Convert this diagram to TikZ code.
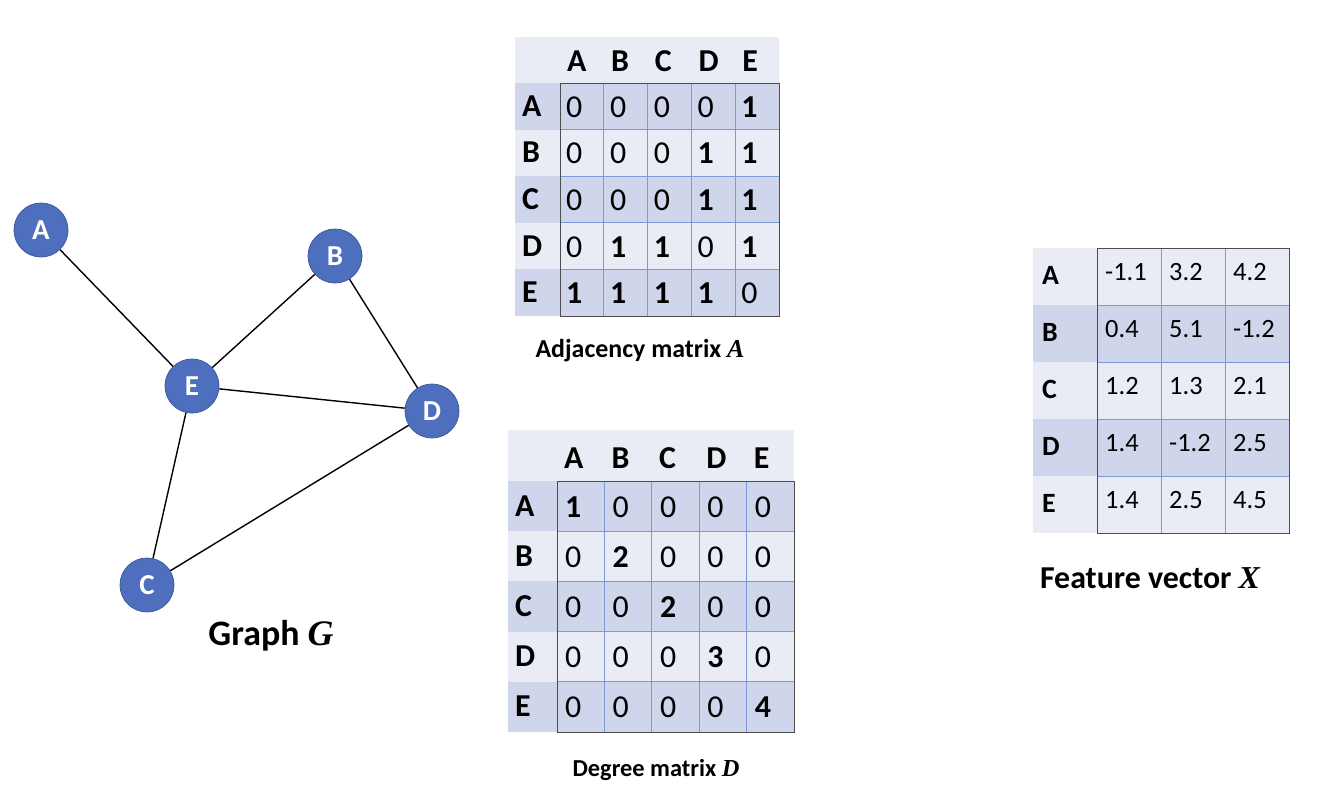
\documentclass[tikz,border=0pt]{standalone}
\usepackage{fontspec}
\setmainfont{Carlito}
\newfontfamily\symfont{Liberation Serif}
\definecolor{nodeblue}{HTML}{4E6FBE}
\definecolor{nodeedge}{HTML}{3E5A9E}
\definecolor{rowdark}{HTML}{CFD5EA}
\definecolor{rowlight}{HTML}{E9EBF5}
\definecolor{gridblue}{HTML}{7D98D6}
\definecolor{frame}{HTML}{4D4D4D}
\newcommand{\mvar}[1]{{\symfont\bfseries\itshape #1}}

\begin{document}
\begin{tikzpicture}[x=1bp,y=-1bp,
  vertex/.style={circle,fill=nodeblue,draw=nodeedge,line width=0.8bp,minimum size=54bp,inner sep=0pt,text=white,font=\fontsize{29}{32}\selectfont\bfseries},
  edge/.style={line width=1.4bp,black},
  bigcell/.style={anchor=west,inner sep=0pt,text height=20bp,text depth=0pt,font=\fontsize{32}{38}\selectfont},
  bighead/.style={bigcell,font=\fontsize{32}{38}\selectfont\bfseries},
  smallcell/.style={anchor=west,inner sep=0pt,text height=17bp,text depth=0pt,font=\fontsize{26.5}{31}\selectfont},
  smallhead/.style={smallcell,font=\fontsize{28}{32}\selectfont\bfseries},
  gridline/.style={gridblue,line width=0.8bp},
  border/.style={frame,line width=1bp},
  caption/.style={inner sep=0pt,font=\bfseries},
]
\useasboundingbox[fill=white] (0,0) rectangle (1336,790);

% ---------------- graph G ----------------
\node[vertex] (A) at (41,230) {A};
\node[vertex] (B) at (335,256) {B};
\node[vertex] (E) at (192,386) {E};
\node[vertex] (D) at (432,411) {D};
\node[vertex] (C) at (147,585) {C};
\draw[edge] (A) -- (E);
\draw[edge] (B) -- (E);
\draw[edge] (B) -- (D);
\draw[edge] (E) -- (D);
\draw[edge] (E) -- (C);
\draw[edge] (C) -- (D);
\node[caption,font=\fontsize{36}{40}\selectfont\bfseries] (capG) at (271,636) {Graph \mvar{G}};

% ---------------- adjacency matrix A ----------------
\def\ax{560}\def\aw{43.8}\def\ay{83}\def\ah{46.6}
\fill[rowlight] (515,37) rectangle (779,\ay);
\foreach \r in {1,...,5}{
  \pgfmathsetmacro\yt{\ay+(\r-1)*\ah}
  \pgfmathsetmacro\yb{\ay+\r*\ah}
  \pgfmathparse{mod(\r,2)==1 ? "rowdark" : "rowlight"}
  \fill[\pgfmathresult] (515,\yt) rectangle (779,\yb);
}
\foreach \c in {1,...,4}{
  \draw[gridline] ({\ax+\c*\aw},\ay) -- ({\ax+\c*\aw},{\ay+5*\ah});
}
\foreach \r in {1,...,4}{
  \draw[gridline] (\ax,{\ay+\r*\ah}) -- (779,{\ay+\r*\ah});
}
\draw[border] (\ax,\ay) rectangle (779,{\ay+5*\ah});
\foreach \h [count=\c] in {A,B,C,D,E}{
  \node[bighead] (adjcol\c) at ({\ax+(\c-1)*\aw+7},61) {\h};
  \node[bighead] (adjrow\c) at (522,{\ay+(\c-0.5)*\ah}) {\h};
}
\foreach \rowvals [count=\r] in {{0,0,0,0,1},{0,0,0,1,1},{0,0,0,1,1},{0,1,1,0,1},{1,1,1,1,0}}{
  \foreach \v [count=\c] in \rowvals{
    \node[bigcell] (adj\r\c) at ({\ax+(\c-1)*\aw+6},{\ay+(\r-0.5)*\ah+1}) {\ifnum\v>0 \bfseries\fi\v};
  }
}
\node[caption,font=\fontsize{26}{30}\selectfont\bfseries] (capA) at (640,351) {Adjacency matrix \mvar{A}};

% ---------------- degree matrix D ----------------
\def\dx{557}\def\dw{47.4}\def\dy{481}\def\dh{50.2}
\fill[rowlight] (508,430) rectangle (794,\dy);
\foreach \r in {1,...,5}{
  \pgfmathsetmacro\yt{\dy+(\r-1)*\dh}
  \pgfmathsetmacro\yb{\dy+\r*\dh}
  \pgfmathparse{mod(\r,2)==1 ? "rowdark" : "rowlight"}
  \fill[\pgfmathresult] (508,\yt) rectangle (794,\yb);
}
\foreach \c in {1,...,4}{
  \draw[gridline] ({\dx+\c*\dw},\dy) -- ({\dx+\c*\dw},{\dy+5*\dh});
}
\foreach \r in {1,...,4}{
  \draw[gridline] (\dx,{\dy+\r*\dh}) -- (794,{\dy+\r*\dh});
}
\draw[border] (\dx,\dy) rectangle (794,{\dy+5*\dh});
\foreach \h [count=\c] in {A,B,C,D,E}{
  \node[bighead] (degcol\c) at ({\dx+(\c-1)*\dw+7},458) {\h};
  \node[bighead] (degrow\c) at (515,{\dy+(\c-0.5)*\dh}) {\h};
}
\foreach \rowvals [count=\r] in {{1,0,0,0,0},{0,2,0,0,0},{0,0,2,0,0},{0,0,0,3,0},{0,0,0,0,4}}{
  \foreach \v [count=\c] in \rowvals{
    \node[bigcell] (deg\r\c) at ({\dx+(\c-1)*\dw+8},{\dy+(\r-0.5)*\dh+1}) {\ifnum\v>0 \bfseries\fi\v};
  }
}
\node[caption,font=\fontsize{24.5}{28}\selectfont\bfseries] (capD) at (656,770) {Degree matrix \mvar{D}};

% ---------------- feature matrix X ----------------
\def\fx{1097}\def\fw{64}\def\fy{248}\def\fh{57}
\foreach \r in {1,...,5}{
  \pgfmathsetmacro\yt{\fy+(\r-1)*\fh}
  \pgfmathsetmacro\yb{\fy+\r*\fh}
  \pgfmathparse{mod(\r,2)==0 ? "rowdark" : "rowlight"}
  \fill[\pgfmathresult] (1033,\yt) rectangle ({\fx+3*\fw},\yb);
}
\foreach \c in {1,2}{
  \draw[gridline] ({\fx+\c*\fw},\fy) -- ({\fx+\c*\fw},{\fy+5*\fh});
}
\foreach \r in {1,...,4}{
  \draw[gridline] (\fx,{\fy+\r*\fh}) -- ({\fx+3*\fw},{\fy+\r*\fh});
}
\draw[border] (\fx,\fy) rectangle ({\fx+3*\fw},{\fy+5*\fh});
\foreach \h [count=\r] in {A,B,C,D,E}{
  \node[smallhead] (featrow\r) at (1042,{\fy+(\r-0.5)*\fh-1}) {\h};
}
\foreach \rowvals [count=\r] in {{-1.1,3.2,4.2},{0.4,5.1,-1.2},{1.2,1.3,2.1},{1.4,-1.2,2.5},{1.4,2.5,4.5}}{
  \foreach \v [count=\c] in \rowvals{
    \node[smallcell] (feat\r\c) at ({\fx+(\c-1)*\fw+8},{\fy+(\r-0.5)*\fh-5}) {\v};
  }
}
\node[caption,font=\fontsize{32}{36}\selectfont\bfseries] (capX) at (1150,578) {Feature vector \mvar{X}};
\end{tikzpicture}
\end{document}
